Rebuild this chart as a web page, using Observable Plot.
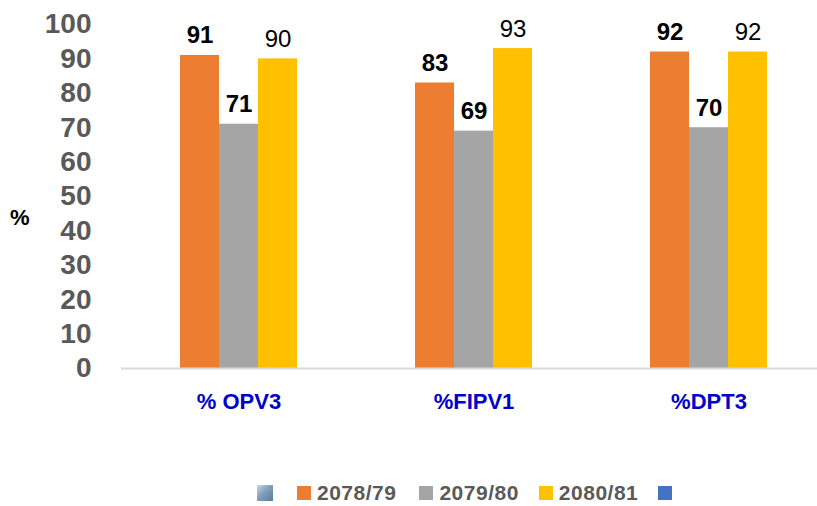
<!DOCTYPE html>
<html>
<head>
<meta charset="utf-8">
<script src="https://cdn.jsdelivr.net/npm/d3@7"></script>
<script src="https://cdn.jsdelivr.net/npm/@observablehq/plot@0.6"></script>
<style>
  html, body { margin: 0; padding: 0; background: #fff; overflow: hidden; }
  #wrap { position: relative; width: 817px; height: 506px; font-family: "Liberation Sans", Arial, sans-serif; }
  #ylab { position: absolute; left: 10px; top: 205px; font-size: 22px; font-weight: bold; color: #000; }
  #legend { position: absolute; left: 0; top: 481px; height: 24px; display: flex; align-items: center; font-size: 21px; font-weight: bold; color: #595959; }
  #legend .sw { display: inline-block; width: 14px; height: 14px; }
  #legend .lab { margin-left: 6px; letter-spacing: 0.5px; }
</style>
</head>
<body>
<div id="wrap">
  <div id="chart"></div>
  <div id="ylab">%</div>
  <div id="legend"></div>
</div>
<script>
const categories = ["% OPV3", "%FIPV1", "%DPT3"];
const series = ["2078/79", "2079/80", "2080/81"];
const colors = ["#ed7d31", "#a5a5a5", "#ffc000"];
const v2078 = [91, 83, 92];
const v2079 = [71, 69, 70];
const v2080 = [90, 93, 92];
const yTicks = [0, 10, 20, 30, 40, 50, 60, 70, 80, 90, 100];

const allValues = [v2078, v2079, v2080];
const data = [];
series.forEach((s, si) => {
  categories.forEach((c, ci) => {
    data.push({category: c, series: s, value: allValues[si][ci]});
  });
});
const boldData = data.filter(d => d.series !== "2080/81");
const normalData = data.filter(d => d.series === "2080/81");

const H = 480;
const chart = Plot.plot({
  width: 817,
  height: H,
  marginLeft: 121,
  marginRight: -9,
  marginTop: 24,
  marginBottom: H - 368,
  style: {fontFamily: "'Liberation Sans', Arial, sans-serif", background: "white", overflow: "hidden"},
  fx: {domain: categories, paddingInner: 0, paddingOuter: 0, label: null},
  x: {domain: series, paddingInner: 0, paddingOuter: 1.51, axis: null},
  y: {domain: [0, 100], axis: null},
  color: {domain: series, range: colors},
  marks: [
    Plot.barY(data, {fx: "category", x: "series", y: "value", fill: "series", inset: 0}),
    Plot.ruleY([0], {stroke: "#d9d9d9", strokeWidth: 2}),
    Plot.text(boldData, {fx: "category", x: "series", y: "value", text: d => String(d.value),
      lineAnchor: "bottom", dy: -12, fontSize: 24, fontWeight: "bold", fill: "#000"}),
    Plot.text(normalData, {fx: "category", x: "series", y: "value", text: d => String(d.value),
      lineAnchor: "bottom", dy: -12, fontSize: 24, fontWeight: "normal", fill: "#000"}),
    Plot.axisY({ticks: yTicks, tickSize: 0, tickPadding: 30, fontSize: 28, fontWeight: "bold",
      fill: "#595959", label: null}),
    Plot.axisFx({anchor: "bottom", tickSize: 0, tickPadding: 25, fontSize: 22, fontWeight: "bold",
      fill: "#0000cc", label: null})
  ]
});
document.getElementById("chart").appendChild(chart);

// Legend
const legend = document.getElementById("legend");
const icon = document.createElement("span");
icon.className = "sw";
icon.style.width = "16px"; icon.style.height = "16px";
icon.style.marginLeft = "257px";
icon.style.background = "linear-gradient(135deg, #b8d6ea 0%, #6a8fb0 45%, #3f6385 100%)";
icon.style.opacity = "0.85";
legend.appendChild(icon);
const gaps = [24, 23, 20];
series.forEach((s, i) => {
  const sw = document.createElement("span");
  sw.className = "sw";
  sw.style.background = colors[i];
  sw.style.marginLeft = gaps[i] + "px";
  legend.appendChild(sw);
  const lab = document.createElement("span");
  lab.className = "lab";
  lab.textContent = s;
  legend.appendChild(lab);
});
const extra = document.createElement("span");
extra.className = "sw";
extra.style.background = "#4472c4";
extra.style.marginLeft = "20px";
legend.appendChild(extra);
</script>
</body>
</html>
